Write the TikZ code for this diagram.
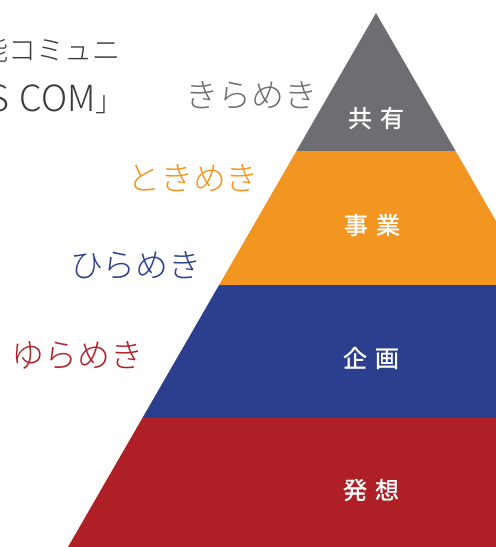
\documentclass[tikz,border=0pt]{standalone}
\usepackage{fontspec}
\newfontfamily\jp{Noto Sans CJK JP}
\newfontfamily\jpl{Noto Sans CJK JP Light}
\newfontfamily\jpb[FakeBold=1.2]{Noto Sans CJK JP}
\usetikzlibrary{positioning}
\definecolor{kyougray}{HTML}{6D6E71}
\definecolor{jigyoorange}{HTML}{F39621}
\definecolor{kikakublue}{HTML}{2B3F8E}
\definecolor{hassored}{HTML}{AE2025}
\definecolor{toptext}{HTML}{3A3A3A}
\tikzset{
  band/.style={draw=none},
  inlabel/.style={text=white,font=\jpb\fontsize{24}{24}\selectfont},
  sidelabel/.style={font=\jpl\fontsize{33}{33}\selectfont,inner sep=0pt},
  toplabel/.style={text=toptext,font=\jpl\fontsize{28}{28}\selectfont,inner sep=0pt,anchor=east}
}
\begin{document}
\begin{tikzpicture}[x=1pt,y=-1pt]
 \useasboundingbox (0,0) rectangle (496,547);
 \clip (0,0) rectangle (496,547);
 % pyramid bands
 \fill[kyougray](376,13)--(296.4,151)--(455.6,151)--cycle;
 \fill[jigyoorange](296.4,151)--(219.1,285)--(532.9,285)--(455.6,151)--cycle;
 \fill[kikakublue](219.1,285)--(142.4,418)--(609.6,418)--(532.9,285)--cycle;
 \fill[hassored](142.4,418)--(68,547)--(684,547)--(609.6,418)--cycle;
 % band names
 \node[inlabel] (kyouyuu) at (376,118) {共\hspace{8pt}有};
 \node[inlabel] (jigyou) at (372,225) {事\hspace{8pt}業};
 \node[inlabel] (kikaku) at (371,358) {企\hspace{8pt}画};
 \node[inlabel] (hassou) at (371,490) {発\hspace{8pt}想};
 % side words
 \node[sidelabel,text=kyougray] (kirameki) at (251,95) {きらめき};
 \node[sidelabel,text=jigyoorange] (tokimeki) at (193,178) {ときめき};
 \node[sidelabel,text=hassored] (yurameki) at (78,355) {ゆらめき};
 \node[sidelabel,text=kikakublue] (hirameki) at (136,265) {ひらめき};
 % cut-off title
 \node[toplabel] (titleA) at (121,50) {「機能コミュニ};
 \node[toplabel] (titleB) at (124,99) {{\fontsize{36}{36}\selectfont S\hspace{10pt}COM}」};
\end{tikzpicture}
\end{document}
